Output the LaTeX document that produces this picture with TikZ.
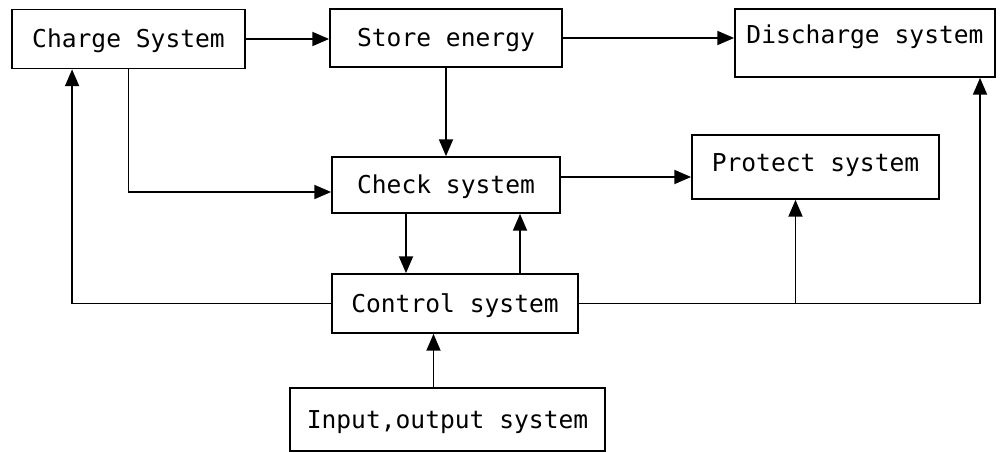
\documentclass[tikz,border=0pt]{standalone}
\usepackage{fontspec}
\usepackage{tikz}
\usetikzlibrary{arrows.meta}
\newfontfamily\boxfont{DejaVu Sans Mono}

\begin{document}
\begin{tikzpicture}[x=0.025cm,y=-0.025cm,
    block/.style={draw,line width=1.2pt,inner sep=0pt,text height=12.8pt,text depth=0pt,
        font=\boxfont\fontsize{17.5}{20}\selectfont},
    link/.style={line width=1.2pt,-{Triangle[length=12pt,width=10pt]}}]
    \useasboundingbox (0,0) rectangle (1001,453);

    \node [block,minimum width=5.825cm,minimum height=1.475cm] (charge) at (128.5,39) {Charge System};
    \node [block,minimum width=5.8cm,minimum height=1.45cm] (store) at (446,38) {Store energy};
    \node [block,minimum width=6.5cm,minimum height=1.7cm,text depth=11.4pt] (discharge) at (865,43) {Discharge system};
    \node [block,minimum width=5.7cm,minimum height=1.4cm] (check) at (446,185) {Check system};
    \node [block,minimum width=6.175cm,minimum height=1.6cm,text depth=5.7pt] (protect) at (815.5,167) {Protect system};
    \node [block,minimum width=6.15cm,minimum height=1.475cm] (control) at (455,303.5) {Control system};
    \node [block,minimum width=7.875cm,minimum height=1.575cm] (inout) at (447.5,419.5) {Input,output system};

    \draw [link] (charge.east) -- (charge.east -| store.west);
    \draw [link] (store.east) -- (store.east -| discharge.west);
    \draw [link] (store.south) -- (check.north);
    \draw [link] (charge.south) |- ([yshift=-0.175cm]check.west);
    \draw [link] ([yshift=0.2cm]check.east) -- ([yshift=0.2cm]check.east -| protect.west);

    \draw [link] ([xshift=-1cm]check.south) -- ([xshift=-1cm]check.south |- control.north);
    \draw [link] ([xshift=1.625cm]control.north) -- ([xshift=1.625cm]control.north |- check.south);
    \draw [link] (control.west) -| ([xshift=-1.41cm]charge.south);
    \draw [link] (control.east) -| ([xshift=2.875cm]discharge.south);
    \draw [link] ([xshift=-0.5cm]protect.south |- control.east) -- ([xshift=-0.5cm]protect.south);
    \draw [link] ([xshift=-0.35cm]inout.north) -- ([xshift=-0.35cm]inout.north |- control.south);
\end{tikzpicture}
\end{document}
